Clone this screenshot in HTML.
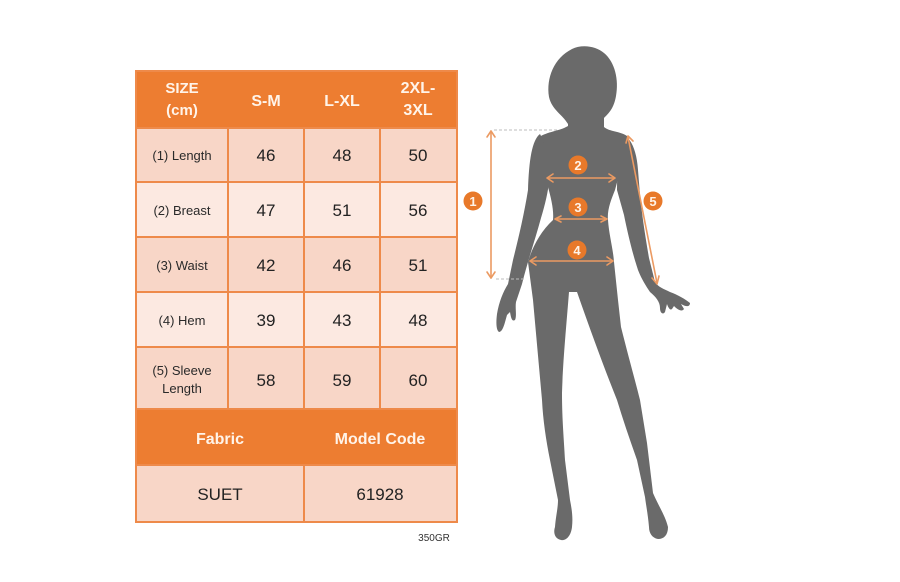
<!DOCTYPE html>
<html><head><meta charset="utf-8"><style>
html,body{margin:0;padding:0;background:#fff;}
svg{display:block;}
</style></head><body>
<svg width="900" height="582" viewBox="0 0 900 582" xmlns="http://www.w3.org/2000/svg" font-family="'Liberation Sans', Arial, sans-serif">
<rect x="0" y="0" width="900" height="582" fill="#fff"/>
<!-- table -->
<rect x="136" y="71" width="321" height="57" fill="#ED7D31"/>
<rect x="136" y="128" width="321" height="54" fill="#F8D6C7"/>
<rect x="136" y="182" width="321" height="55" fill="#FCE9E1"/>
<rect x="136" y="237" width="321" height="55" fill="#F8D6C7"/>
<rect x="136" y="292" width="321" height="55" fill="#FCE9E1"/>
<rect x="136" y="347" width="321" height="62" fill="#F8D6C7"/>
<rect x="136" y="409" width="321" height="56" fill="#ED7D31"/>
<rect x="136" y="465" width="321" height="57" fill="#F8D6C7"/>
<g stroke="#EE8A4A" stroke-width="2" fill="none">
<rect x="136" y="71" width="321" height="451"/>
<line x1="136" y1="128" x2="457" y2="128"/>
<line x1="136" y1="182" x2="457" y2="182"/>
<line x1="136" y1="237" x2="457" y2="237"/>
<line x1="136" y1="292" x2="457" y2="292"/>
<line x1="136" y1="347" x2="457" y2="347"/>
<line x1="136" y1="409" x2="457" y2="409"/>
<line x1="136" y1="465" x2="457" y2="465"/>
<line x1="228" y1="128" x2="228" y2="409"/>
<line x1="304" y1="128" x2="304" y2="409"/>
<line x1="380" y1="128" x2="380" y2="409"/>
<line x1="304" y1="465" x2="304" y2="522"/>
</g>
<g fill="#FFF4EA" font-weight="bold" font-size="15" text-anchor="middle">
<text x="182" y="93">SIZE</text>
<text x="182" y="115">(cm)</text>
<text x="266" y="106" font-size="16">S-M</text>
<text x="342" y="106" font-size="16">L-XL</text>
<text x="418" y="93" font-size="16">2XL-</text>
<text x="418" y="115" font-size="16">3XL</text>
<text x="220" y="444" font-size="16">Fabric</text>
<text x="380" y="444" font-size="16">Model Code</text>
</g>
<g fill="#2a2a2a" font-size="13" text-anchor="middle">
<text x="182" y="160">(1) Length</text>
<text x="182" y="215">(2) Breast</text>
<text x="182" y="270">(3) Waist</text>
<text x="182" y="325">(4) Hem</text>
<text x="182" y="375">(5) Sleeve</text>
<text x="182" y="393">Length</text>
</g>
<g fill="#222" font-size="17" text-anchor="middle">
<text x="266" y="161">46</text><text x="342" y="161">48</text><text x="418" y="161">50</text>
<text x="266" y="216">47</text><text x="342" y="216">51</text><text x="418" y="216">56</text>
<text x="266" y="271">42</text><text x="342" y="271">46</text><text x="418" y="271">51</text>
<text x="266" y="326">39</text><text x="342" y="326">43</text><text x="418" y="326">48</text>
<text x="266" y="386">58</text><text x="342" y="386">59</text><text x="418" y="386">60</text>
<text x="220" y="500">SUET</text><text x="380" y="500">61928</text>
</g>
<text x="434" y="541" fill="#333" font-size="10" text-anchor="middle">350GR</text>

<!-- silhouette -->
<g fill="#6A6A6A">
<!-- head -->
<path d="M568,124 C562,114 552,110 549,97 C546,78 554,58 572,49 C582,44 596,46 604,53 C615,62 619,80 616,96 C614,108 609,113 604,118 L604,126 Z"/>
<!-- body -->
<path d="M568,120 L604,120 L604,127 C610,132 620,131 627,136 C631,142 622,160 619,175 L615,190 C611,200 607,210 608,220 C609,235 613,248 614,262 L618,300 L621,327 C628,355 635,380 640,400 L647,443 L653,493 C658,505 665,515 668,527 C668,535 664,539 658,539 C652,538 649,533 649,527 C648,515 646,505 645,497 L637,460 C630,440 623,420 617,400 C605,370 592,335 577,292 L569,292 C566,330 563,360 562,393 C562,420 564,440 565,460 L570,500 C572,510 573,518 572,527 C571,536 566,541 561,540 C555,539 553,533 555,527 C556,515 558,508 558,500 L550,460 C546,440 543,420 542,400 L533,300 L528,262 C532,248 540,232 553,220 C554,210 551,198 548,187 C542,170 537,150 538,138 C545,132 560,131 568,126 Z"/>
<!-- left arm -->
<path d="M540,134 C532,140 529,160 528,190 C524,215 518,240 513,260 L508,284 C503,292 499,302 497,314 C496,322 496,330 499,332 C503,332 505,322 507,315 L510,312 C511,318 512,322 515,320 C517,316 515,308 516,302 C518,296 520,290 522,284 C528,260 535,240 541,218 C545,205 548,192 549,182 C548,165 546,145 540,134 Z"/>
<!-- right arm -->
<path d="M624,135 C633,140 637,155 638,170 L640,195 C642,215 645,235 649,258 L655,282 C658,287 664,289 670,292 C678,295 685,299 690,303 C690,307 686,307 681,304 L684,309 C682,312 678,310 674,306 L672,309 C670,311 668,307 667,304 L665,312 C663,315 660,313 660,308 C660,302 656,297 650,292 C646,286 642,280 638,270 C633,255 628,235 624,215 L617,190 C617,170 619,150 624,135 Z"/>
</g>

<!-- measurement lines -->
<g stroke="#BDBDBD" stroke-width="1" stroke-dasharray="3,2" fill="none">
<line x1="494" y1="130" x2="557" y2="130"/>
<line x1="496" y1="279" x2="526" y2="279"/>
</g>
<g stroke="#EB9A62" stroke-width="1.6" fill="none" stroke-linecap="round" stroke-linejoin="round">
<line x1="491" y1="131" x2="491" y2="278"/>
<polyline points="487,137 491,131 495,137"/>
<polyline points="487,272 491,278 495,272"/>
<line x1="548" y1="178" x2="614" y2="178"/>
<polyline points="553,174 547,178 553,182"/>
<polyline points="609,174 615,178 609,182"/>
<line x1="556" y1="219" x2="606" y2="219"/>
<polyline points="561,216 555,219 561,222"/>
<polyline points="601,216 607,219 601,222"/>
<line x1="531" y1="261" x2="612" y2="261"/>
<polyline points="536,257 530,261 536,265"/>
<polyline points="607,257 613,261 607,265"/>
<line x1="628" y1="137" x2="657" y2="283"/>
<polyline points="626,143 628,136 633,141"/>
<polyline points="652,278 657,284 659,276"/>
</g>
<g fill="#E8792A">
<circle cx="473" cy="201" r="9.5"/>
<circle cx="653" cy="201" r="9.5"/>
<circle cx="578" cy="165" r="9.5"/>
<circle cx="578" cy="207" r="9.5"/>
<circle cx="577" cy="250" r="9.5"/>
</g>
<g fill="#FFF3E8" font-size="13" font-weight="bold" text-anchor="middle">
<text x="473" y="206">1</text>
<text x="653" y="206">5</text>
<text x="578" y="170">2</text>
<text x="578" y="212">3</text>
<text x="577" y="255">4</text>
</g>
</svg>
</body></html>
